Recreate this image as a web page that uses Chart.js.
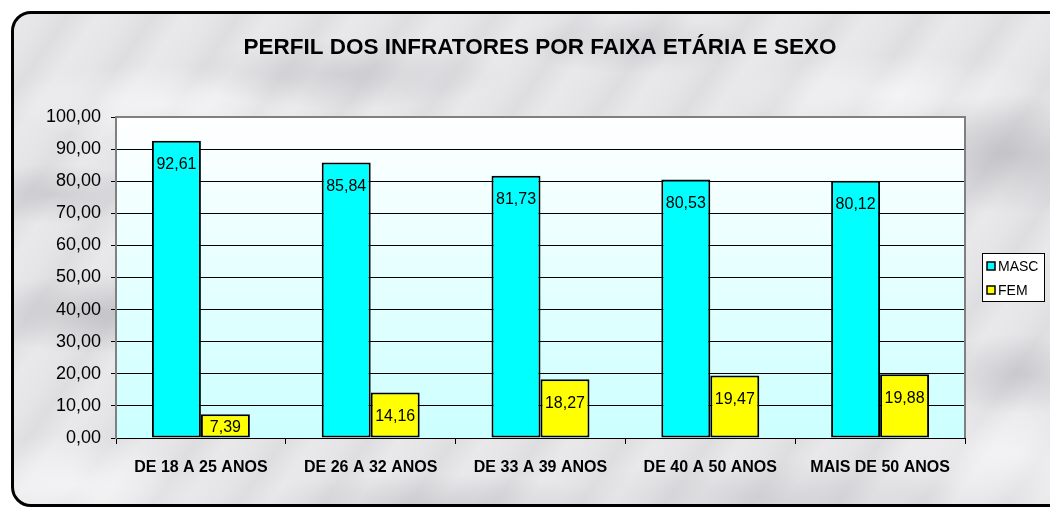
<!DOCTYPE html>
<html>
<head>
<meta charset="utf-8">
<script src="https://cdn.jsdelivr.net/npm/chart.js@4"></script>
<style>
  html, body { margin: 0; padding: 0; background: #fff; overflow: hidden; }
  #frame {
    position: absolute; left: 11px; top: 11px; width: 1100px; height: 490px;
    border: 3px solid #000; border-radius: 20px;
    background-color: #e4e4e7;
    background-image:
      radial-gradient(ellipse 120px 40px at 80px 300px, rgba(140,140,145,0.35), transparent),
      radial-gradient(ellipse 90px 30px at 40px 180px, rgba(150,150,155,0.3), transparent),
      radial-gradient(ellipse 160px 35px at 330px 60px, rgba(160,160,165,0.3), transparent),
      radial-gradient(ellipse 120px 30px at 620px 30px, rgba(160,160,165,0.25), transparent),
      radial-gradient(ellipse 130px 60px at 1000px 140px, rgba(140,140,145,0.35), transparent),
      radial-gradient(ellipse 100px 40px at 1010px 360px, rgba(150,150,155,0.3), transparent),
      radial-gradient(ellipse 120px 50px at 60px 470px, rgba(255,255,255,0.6), transparent),
      radial-gradient(ellipse 180px 30px at 420px 490px, rgba(160,160,165,0.3), transparent),
      radial-gradient(ellipse 200px 40px at 760px 485px, rgba(170,170,175,0.3), transparent),
      radial-gradient(ellipse 140px 60px at 1000px 440px, rgba(255,255,255,0.5), transparent),
      radial-gradient(ellipse 160px 40px at 150px 90px, rgba(255,255,255,0.55), transparent),
      radial-gradient(ellipse 160px 40px at 880px 80px, rgba(255,255,255,0.5), transparent),
      repeating-linear-gradient(125deg, rgba(255,255,255,0.18) 0px, rgba(255,255,255,0.04) 25px, rgba(150,150,155,0.08) 45px, rgba(255,255,255,0.16) 70px);
  }
  #c { position: absolute; left: 0; top: 0; }
</style>
</head>
<body>
<div id="frame"></div>
<canvas id="c" width="1050" height="507"></canvas>
<script>
const categories = ["DE 18 A 25 ANOS", "DE 26 A 32 ANOS", "DE 33 A 39 ANOS", "DE 40 A 50 ANOS", "MAIS DE 50 ANOS"];
const masc = [92.61, 85.84, 81.73, 80.53, 80.12];
const fem = [7.39, 14.16, 18.27, 19.47, 19.88];
const chartTitle = "PERFIL DOS INFRATORES POR FAIXA ETÁRIA E SEXO";

function fmt(v) { return v.toFixed(2).replace('.', ','); }

// plot area background, border, title, value labels and legend box
const decor = {
  id: 'decor',
  beforeDraw(chart) {
    const {ctx, chartArea: a} = chart;
    const g = ctx.createLinearGradient(0, a.top, 0, a.bottom);
    g.addColorStop(0, '#ffffff');
    g.addColorStop(1, '#ccffff');
    ctx.save();
    ctx.fillStyle = g;
    ctx.fillRect(a.left, a.top, a.right - a.left, a.bottom - a.top);
    ctx.restore();
  },
  beforeDatasetsDraw(chart) {
    const {ctx, chartArea: a} = chart;
    ctx.save();
    ctx.strokeStyle = '#808080';
    ctx.lineWidth = 2;
    ctx.beginPath();
    ctx.moveTo(a.left, a.bottom);
    ctx.lineTo(a.left, a.top);
    ctx.lineTo(a.right, a.top);
    ctx.lineTo(a.right, a.bottom);
    ctx.stroke();
    ctx.restore();
  },
  afterDraw(chart) {
    const {ctx} = chart;
    ctx.save();
    ctx.fillStyle = '#000';
    ctx.textAlign = 'center';
    ctx.textBaseline = 'middle';
    ctx.font = 'bold 22.5px "Liberation Sans", Arial, sans-serif';
    ctx.fillText(chartTitle, 540, 48);

    ctx.font = '16px "Liberation Sans", Arial, sans-serif';
    chart.data.datasets.forEach((ds, i) => {
      chart.getDatasetMeta(i).data.forEach((bar, j) => {
        const h = bar.base - bar.y;
        const off = Math.min(24, h - 10);
        ctx.fillText(fmt(ds.data[j]), bar.x, bar.y + off);
      });
    });

    // legend
    const lx = 982, ly = 253, lw = 62, lh = 48;
    ctx.fillStyle = '#fff';
    ctx.fillRect(lx, ly, lw, lh);
    ctx.strokeStyle = '#000';
    ctx.lineWidth = 1;
    ctx.strokeRect(lx + 0.5, ly + 0.5, lw, lh);
    ctx.font = '14px "Liberation Sans", Arial, sans-serif';
    ctx.textAlign = 'left';
    chart.data.datasets.forEach((ds, i) => {
      const y = ly + 13 + i * 24;
      ctx.fillStyle = ds.backgroundColor;
      ctx.fillRect(lx + 5, y - 4, 8, 8);
      ctx.lineWidth = 1.5;
      ctx.strokeRect(lx + 5, y - 4, 8, 8);
      ctx.fillStyle = '#000';
      ctx.fillText(ds.label, lx + 16, y + 1);
    });
    ctx.restore();
  }
};

new Chart(document.getElementById('c'), {
  type: 'bar',
  data: {
    labels: categories,
    datasets: [
      { label: 'MASC', data: masc, backgroundColor: '#00ffff', borderColor: '#000', borderWidth: 2, borderSkipped: false },
      { label: 'FEM', data: fem, backgroundColor: '#ffff00', borderColor: '#000', borderWidth: 2, borderSkipped: false }
    ]
  },
  options: {
    responsive: false,
    animation: false,
    layout: { padding: { left: 0, top: 117, right: 85, bottom: 0 } },
    datasets: { bar: { categoryPercentage: 0.577, barPercentage: 1.0 } },
    plugins: { legend: { display: false }, tooltip: { enabled: false } },
    scales: {
      x: {
        afterFit(s) { s.height = 69; },
        grid: { drawOnChartArea: false, color: '#000', tickLength: 6 },
        border: { color: '#000', width: 1 },
        ticks: { color: '#000', padding: 14, font: { family: '"Liberation Sans", Arial, sans-serif', size: 16, weight: 'bold' } }
      },
      y: {
        min: 0, max: 100,
        afterFit(s) { s.width = 116; },
        grid: { color: '#000', lineWidth: 1, tickLength: 5 },
        border: { color: '#808080', width: 2 },
        ticks: {
          stepSize: 10, color: '#000', padding: 10,
          font: { family: '"Liberation Sans", Arial, sans-serif', size: 18 },
          callback: v => fmt(v)
        }
      }
    }
  },
  plugins: [decor]
});
</script>
</body>
</html>
